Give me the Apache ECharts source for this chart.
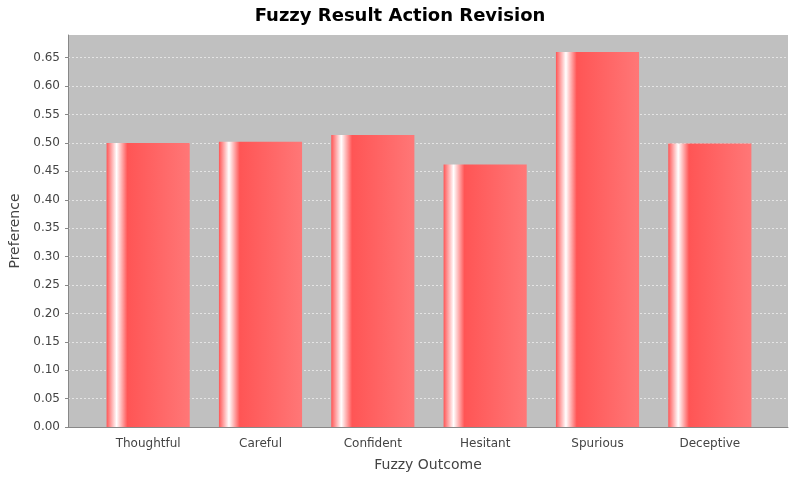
<!DOCTYPE html>
<html><head><meta charset="utf-8">
<script src="https://cdn.jsdelivr.net/npm/echarts@6/dist/echarts.min.js"></script>
<style>html,body{margin:0;padding:0;background:#fff}#c{width:800px;height:480px}</style>
</head><body><div id="c"></div>
<script>
const categories=['Thoughtful','Careful','Confident','Hesitant','Spurious','Deceptive'];
const preference=[0.500,0.502,0.514,0.462,0.660,0.499];
const chart=echarts.init(document.getElementById('c'));
const grad=new echarts.graphic.LinearGradient(0,0,1,0,[
 {offset:0,color:'#ff5555'},{offset:0.12,color:'#ffffff'},{offset:0.25,color:'#ff5555'},{offset:1,color:'#ff7777'}]);
const font='DejaVu Sans';
chart.setOption({
 animation:false,
 title:{text:'Fuzzy Result Action Revision',left:'center',top:2,textStyle:{fontFamily:font,fontWeight:'bold',fontSize:18,color:'#000'}},
 grid:[
  {left:68,right:12,top:35,bottom:53,show:true,backgroundColor:'#c0c0c0',borderWidth:0},
  {left:92,right:34,top:35,bottom:53,show:false}
 ],
 xAxis:[
  {type:'category',gridIndex:0,data:[''],name:'Fuzzy Outcome',nameLocation:'middle',nameGap:31,
   nameTextStyle:{fontFamily:font,fontSize:14,color:'#444'},
   axisLine:{lineStyle:{color:'#888'}},axisTick:{show:false},axisLabel:{show:false}},
  {type:'category',gridIndex:1,data:categories,
   axisLine:{show:false},axisTick:{show:false},
   axisLabel:{fontFamily:font,fontSize:12,color:'#444',margin:11}}
 ],
 yAxis:[
  {type:'value',gridIndex:0,min:0,max:0.69,interval:0.05,name:'Preference',nameLocation:'middle',nameGap:45,
   nameTextStyle:{fontFamily:font,fontSize:14,color:'#444'},
   axisLine:{show:true,lineStyle:{color:'#888'}},axisTick:{show:true,length:3,lineStyle:{color:'#888'}},
   axisLabel:{fontFamily:font,fontSize:12,color:'#444',showMaxLabel:false,formatter:v=>v.toFixed(2)},
   splitLine:{showMaxLine:false,lineStyle:{color:'#eeeeee',type:[2,2],width:0.8}}},
  {type:'value',gridIndex:1,min:0,max:0.69,interval:0.05,show:false,splitLine:{show:false}}
 ],
 series:[{type:'bar',xAxisIndex:1,yAxisIndex:1,data:preference,barCategoryGap:'26%',itemStyle:{color:grad}}]
});
</script></body></html>
